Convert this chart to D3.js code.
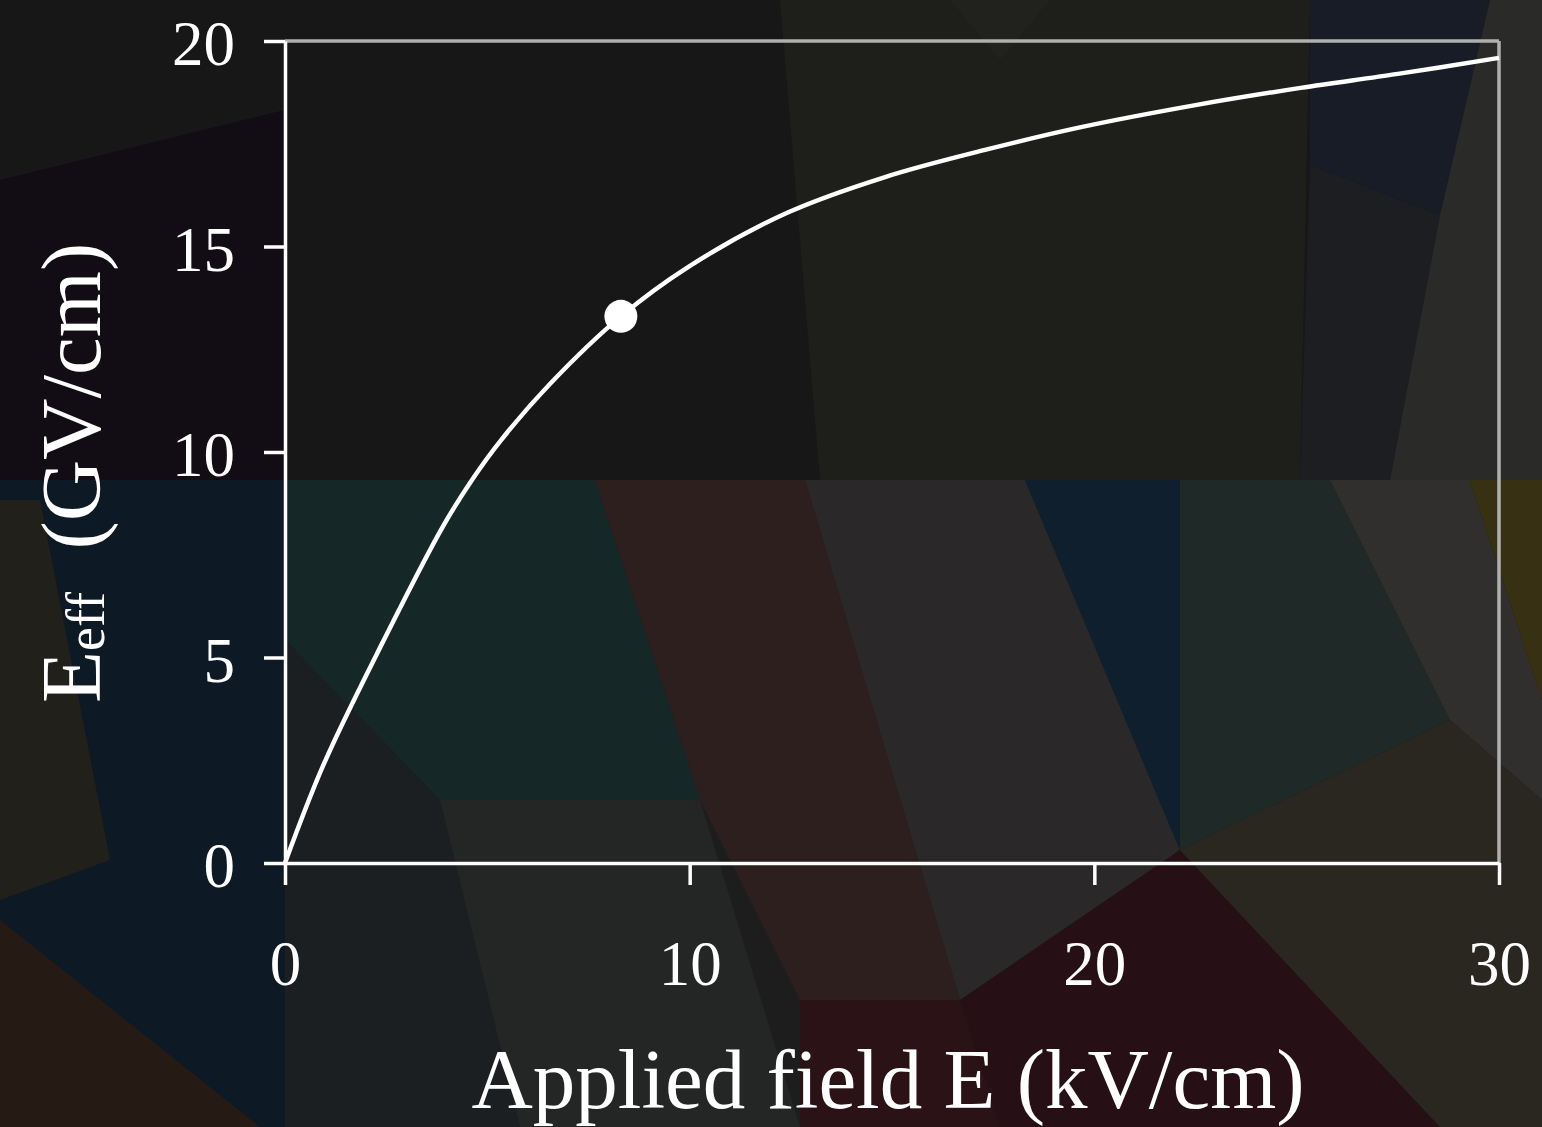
<!DOCTYPE html>
<html lang="en">
<head>
    <meta charset="UTF-8">
    <title>Effective field vs applied field</title>
    <style>
      body { margin: 0; background: #171717; overflow: hidden; }
      svg { display: block; }
    </style>
</head>
<body>
  <script src="https://cdn.jsdelivr.net/npm/d3@7"></script>
  <div id="chart"></div>
  <script>

// data
const fieldE   = [0, 0.96, 2.42, 3.88, 4.62, 5.34, 6.57, 8.3, 9.96, 12.41, 14.83, 17.3, 19.7, 22.5, 25.1, 27.5, 30];
const effField = [0, 2.41, 5.38, 8.15, 9.32, 10.29, 11.68, 13.3, 14.50, 15.82, 16.69, 17.35, 17.91, 18.44, 18.86, 19.2, 19.59];
const markerE = [8.3];
const markerEff = [13.3];
const xTicks = [0, 10, 20, 30];
const yTicks = [0, 5, 10, 15, 20];

// background low-poly decoration (pixel polygons + fill)
const bgShapes = [
  {p: [[0,0],[1542,0],[1542,480],[0,480]], c: "#171717"},
  {p: [[0,180],[285,110],[285,480],[0,480]], c: "#120c14"},
  {p: [[780,0],[1310,0],[1300,480],[820,480]], c: "#1e1e1b"},
  {p: [[950,0],[1050,0],[1000,60]], c: "#21211e"},
  {p: [[1310,0],[1490,0],[1440,215],[1310,165]], c: "#181c26"},
  {p: [[1310,165],[1440,215],[1390,480],[1300,480]], c: "#1c1e22"},
  {p: [[1490,0],[1542,0],[1542,480],[1390,480],[1440,215]], c: "#2a2b28"},
  // lower half
  {p: [[0,480],[1542,480],[1542,1127],[0,1127]], c: "#1e1d1d"},
  {p: [[0,480],[285,480],[285,1127],[0,1127]], c: "#0d1a25"},
  {p: [[0,500],[40,500],[110,860],[0,900]], c: "#22201a"},
  {p: [[0,920],[260,1127],[0,1127]], c: "#261a15"},
  {p: [[285,480],[595,480],[700,800],[440,800],[285,640]], c: "#152726"},
  {p: [[285,640],[440,800],[520,1127],[285,1127]], c: "#1c1f22"},
  {p: [[440,800],[700,800],[800,1127],[520,1127]], c: "#242525"},
  {p: [[595,480],[805,480],[960,1000],[800,1000],[700,800]], c: "#2c1f1e"},
  {p: [[800,1000],[960,1000],[1000,1127],[800,1127]], c: "#2a1216"},
  {p: [[805,480],[1025,480],[1180,850],[960,1000]], c: "#2a2828"},
  {p: [[1025,480],[1180,480],[1180,850]], c: "#0f1f2e"},
  {p: [[1180,480],[1330,480],[1450,720],[1180,850]], c: "#1f2927"},
  {p: [[1330,480],[1470,480],[1542,700],[1542,800],[1450,720]], c: "#312f2e"},
  {p: [[1470,480],[1542,480],[1542,700]], c: "#383013"},
  {p: [[960,1000],[1180,850],[1440,1127],[1000,1127]], c: "#261015"},
  {p: [[1180,850],[1450,720],[1542,800],[1542,1127],[1440,1127]], c: "#2a2620"}
];

const W = 1542, H = 1127;
const margin = {top: 41, right: 43, bottom: 264, left: 285},
    width = W - margin.left - margin.right,
    height = H - margin.top - margin.bottom;

const root = d3.select("#chart")
  .append("svg")
    .attr("width", W)
    .attr("height", H);

// background
root.append("g")
  .selectAll("polygon")
  .data(bgShapes)
  .join("polygon")
    .attr("points", d => d.p.map(q => q.join(",")).join(" "))
    .attr("fill", d => d.c);

const svg = root.append("g")
    .attr("transform", `translate(${margin.left}, ${margin.top})`);

const font = "'Liberation Serif', 'Times New Roman', serif";

const x = d3.scaleLinear().domain([0, 30]).range([0, width]);
const y = d3.scaleLinear().domain([0, 20]).range([height, 0]);

// frame: top and right in grey
svg.append("line")
  .attr("x1", 0).attr("x2", width).attr("y1", 0).attr("y2", 0)
  .attr("stroke", "#b0b0b0").attr("stroke-width", 3.5);
svg.append("line")
  .attr("x1", width).attr("x2", width).attr("y1", 0).attr("y2", height)
  .attr("stroke", "#b0b0b0").attr("stroke-width", 3.5);

// X axis
const xAxis = svg.append("g")
  .attr("transform", `translate(0, ${height})`)
  .call(d3.axisBottom(x).tickValues(xTicks).tickSize(22).tickSizeOuter(0).tickPadding(55));
// Y axis
const yAxis = svg.append("g")
  .call(d3.axisLeft(y).tickValues(yTicks).tickSize(21).tickSizeOuter(0).tickPadding(29));

[xAxis, yAxis].forEach(a => {
  a.select(".domain").attr("stroke", "#ffffff").attr("stroke-width", 3.5);
  a.selectAll(".tick line").attr("stroke", "#ffffff").attr("stroke-width", 3.5);
  a.selectAll(".tick text")
    .attr("fill", "#ffffff")
    .style("font-family", font)
    .style("font-size", "63px");
});
yAxis.selectAll(".tick text").attr("dy", "0.38em");

// curve
const line = d3.line()
  .x(i => x(fieldE[i]))
  .y(i => y(effField[i]))
  .curve(d3.curveCatmullRom.alpha(0.5));
svg.append("path")
  .datum(d3.range(fieldE.length))
  .attr("d", line)
  .attr("fill", "none")
  .attr("stroke", "#ffffff")
  .attr("stroke-width", 4.5);

// marker
svg.selectAll("circle.mk")
  .data(markerE)
  .join("circle")
    .attr("class", "mk")
    .attr("cx", d => x(d))
    .attr("cy", (d, i) => y(markerEff[i]))
    .attr("r", 16.5)
    .attr("fill", "#ffffff");

// axis titles
root.append("text")
  .attr("x", 888)
  .attr("y", 1108)
  .attr("text-anchor", "middle")
  .attr("fill", "#ffffff")
  .style("font-family", font)
  .style("font-size", "85px")
  .text("Applied field E (kV/cm)");

const yl = root.append("text")
  .attr("transform", "translate(100, 703) rotate(-90)")
  .attr("fill", "#ffffff")
  .style("font-family", font)
  .style("font-size", "85px");
yl.append("tspan").text("E");
yl.append("tspan").attr("dy", 4).style("font-size", "54px").text("eff");
yl.append("tspan").attr("dy", -4).text("\u00a0\u00a0(GV/cm)");

  </script>
</body>
</html>
